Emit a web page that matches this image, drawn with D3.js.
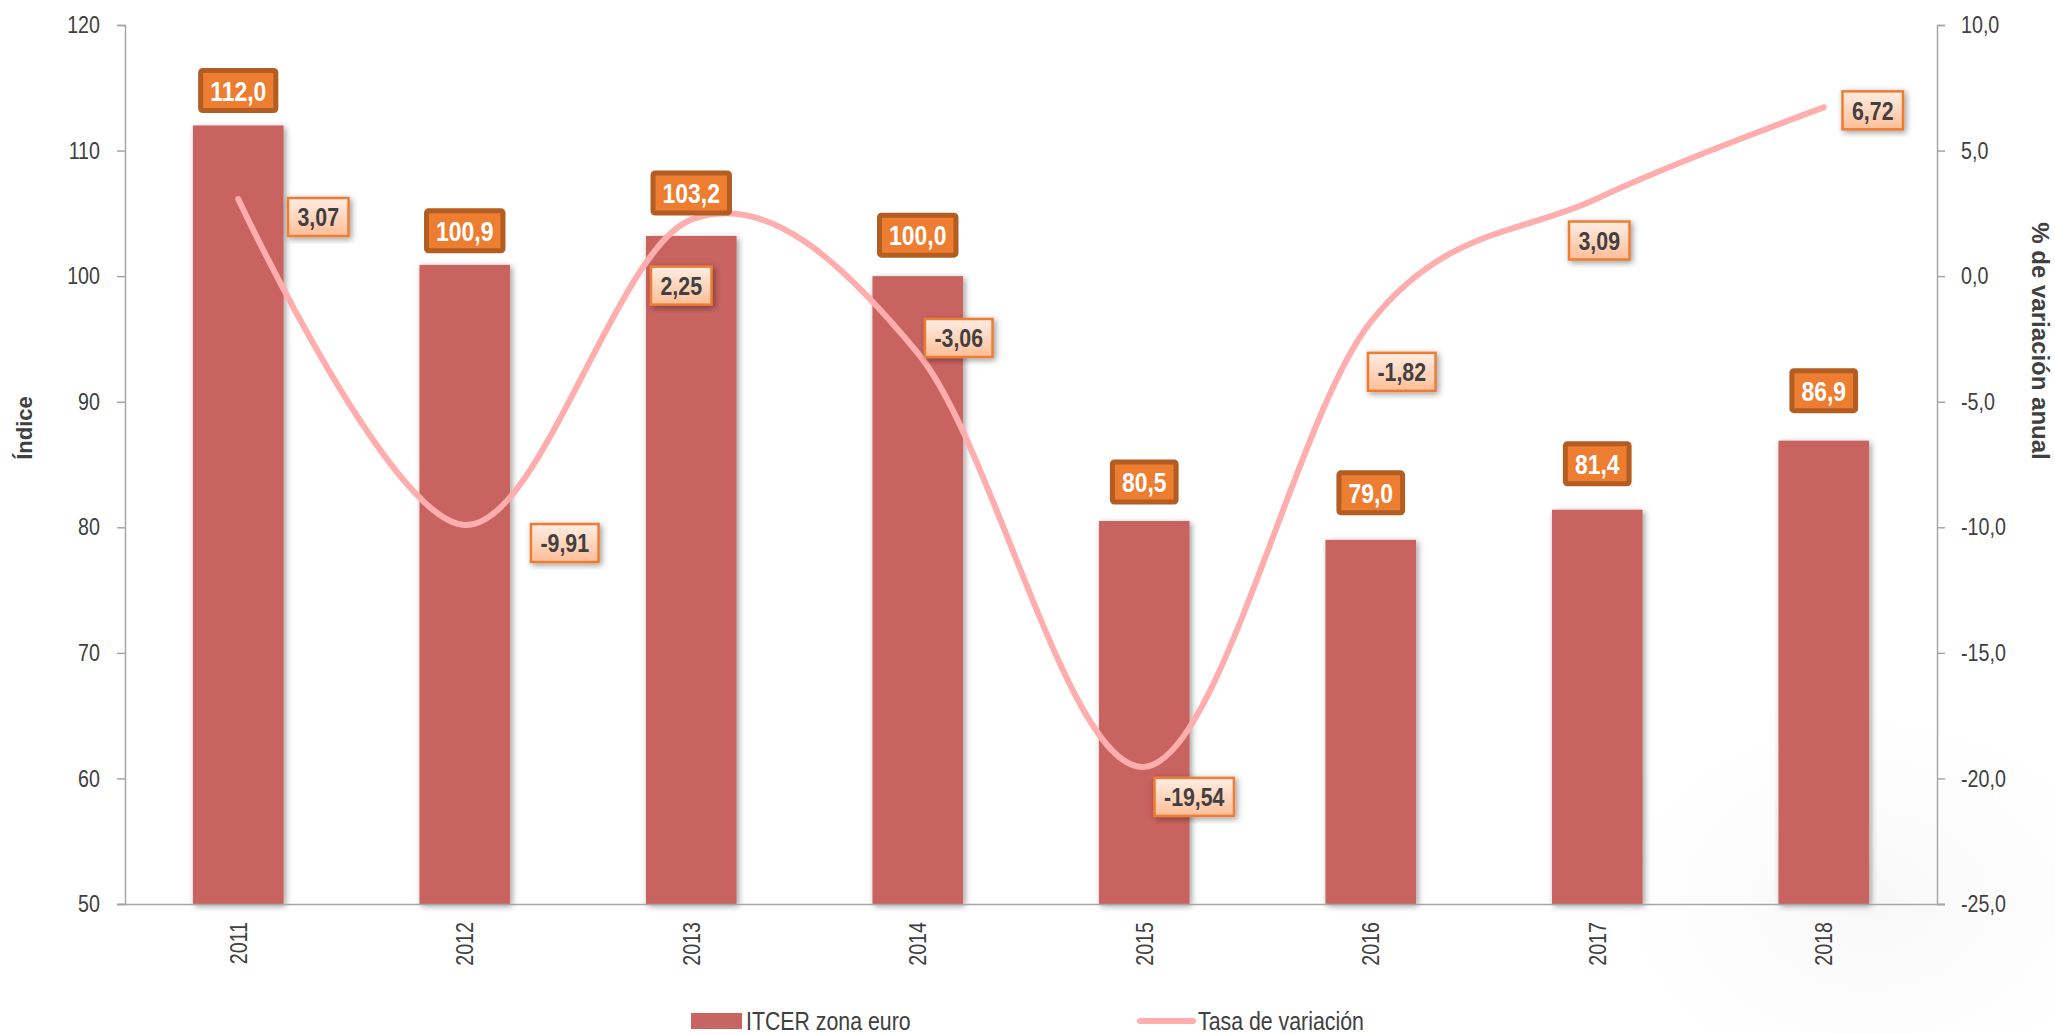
<!DOCTYPE html>
<html>
<head>
<meta charset="utf-8">
<script src="https://cdn.jsdelivr.net/npm/d3@7"></script>
<style>
  html, body { margin: 0; padding: 0; background: #fff; }
  svg { display: block; }
  text { font-family: "Liberation Sans", Arial, sans-serif; }
</style>
</head>
<body>
<svg id="svg" width="2055" height="1034"></svg>
<script>
const years = ['2011', '2012', '2013', '2014', '2015', '2016', '2017', '2018'];
const itcer = [112.0, 100.9, 103.2, 100.0, 80.5, 79.0, 81.4, 86.9];
const tasa = [3.07, -9.91, 2.25, -3.06, -19.54, -1.82, 3.09, 6.72];
const leftTicks = [50, 60, 70, 80, 90, 100, 110, 120];
const rightTicks = [-25, -20, -15, -10, -5, 0, 5, 10];
// label placement (px): bar labels above the bar top, rate labels relative to the point
const barLabelGap = [35, 34, 43, 41, 39, 47, 46, 50];
const tasaLabelOffset = [[80, 18], [100, 18], [-10, 66], [41, -15], [50, 30], [31, 50], [2, 42], [49, 3]];

const W = 2055, H = 1034;
const margin = {top: 25, right: 118, bottom: 130, left: 125};
const NARROW = 0.82; // fake Arial Narrow by squeezing Liberation Sans
const svg = d3.select('#svg');
const fmt1 = v => v.toFixed(1).replace('.', ',');
const fmt2 = v => v.toFixed(2).replace('.', ',');

function narrow(sel, pre) {
  sel.each(function () {
    const t = d3.select(this);
    const tx = +t.attr('x') || 0, ty = +t.attr('y') || 0;
    t.attr('x', 0).attr('y', 0)
      .attr('transform', `${pre || ''} translate(${tx},${ty}) scale(${NARROW},1)`);
  });
}

const defs = svg.append('defs');
const sh = defs.append('filter').attr('id', 'shadow').attr('x', '-20%').attr('y', '-20%').attr('width', '140%').attr('height', '140%');
sh.append('feDropShadow').attr('dx', 2).attr('dy', 2).attr('stdDeviation', 3).attr('flood-color', '#000').attr('flood-opacity', 0.4);
const grad = defs.append('linearGradient').attr('id', 'lblGrad').attr('x1', 0).attr('y1', 0).attr('x2', 0).attr('y2', 1);
grad.append('stop').attr('offset', '0%').attr('stop-color', '#FFEDE3');
grad.append('stop').attr('offset', '100%').attr('stop-color', '#FFBE98');
const wm = defs.append('radialGradient').attr('id', 'wm');
wm.append('stop').attr('offset', '0%').attr('stop-color', '#efefef').attr('stop-opacity', 0.5);
wm.append('stop').attr('offset', '100%').attr('stop-color', '#ffffff').attr('stop-opacity', 0);

// faint watermark in the lower right
svg.append('ellipse').attr('cx', 1870).attr('cy', 900).attr('rx', 320).attr('ry', 240).attr('fill', 'url(#wm)');

const x = d3.scaleBand().domain(years).range([margin.left, W - margin.right]).paddingInner(0.6).paddingOuter(0.3);
const yL = d3.scaleLinear().domain([50, 120]).range([H - margin.bottom, margin.top]);
const yR = d3.scaleLinear().domain([-25, 10]).range([H - margin.bottom, margin.top]);
const cx = d => x(d) + x.bandwidth() / 2;

// bars
svg.append('g').selectAll('rect').data(years).enter().append('rect')
  .attr('x', d => x(d)).attr('width', x.bandwidth())
  .attr('y', (d, i) => yL(itcer[i])).attr('height', (d, i) => yL(50) - yL(itcer[i]))
  .attr('fill', '#C86461').attr('filter', 'url(#shadow)');

// axes
const axisColor = '#A6A6A6';
const gL = svg.append('g').attr('transform', `translate(${margin.left},0)`)
  .call(d3.axisLeft(yL).tickValues(leftTicks).tickSize(8).tickPadding(17).tickFormat(d3.format('d')));
const gR = svg.append('g').attr('transform', `translate(${W - margin.right},0)`)
  .call(d3.axisRight(yR).tickValues(rightTicks).tickSize(8).tickPadding(16).tickFormat(fmt1));
const gB = svg.append('g').attr('transform', `translate(0,${H - margin.bottom})`)
  .call(d3.axisBottom(x).tickSize(0).tickPadding(0));
gB.select('.domain').attr('d', `M${margin.left - 8},0.5H${W - margin.right + 8}`);
[gL, gR, gB].forEach(g => {
  g.selectAll('.domain').attr('stroke', axisColor).attr('stroke-width', 1.5);
  g.selectAll('line').attr('stroke', axisColor).attr('stroke-width', 1.5);
  g.selectAll('text').attr('font-family', null).attr('font-size', 24).attr('fill', '#404040');
});
narrow(gL.selectAll('text'));
narrow(gR.selectAll('text'));
gB.selectAll('text').attr('text-anchor', 'end').attr('x', -18).attr('y', 0).attr('dy', '0.35em');
narrow(gB.selectAll('text'), 'rotate(-90)');

// line
const line = d3.line().x((d, i) => cx(years[i])).y(d => yR(d)).curve(d3.curveCatmullRom.alpha(0));
svg.append('path').datum(tasa).attr('d', line)
  .attr('fill', 'none').attr('stroke', '#FFADAD').attr('stroke-width', 6).attr('stroke-linecap', 'round');

// bar labels
const bl = svg.append('g').selectAll('g').data(years).enter().append('g')
  .attr('transform', (d, i) => `translate(${cx(d)},${yL(itcer[i]) - barLabelGap[i]})`);
bl.append('text').attr('text-anchor', 'middle').attr('dy', '0.36em')
  .attr('font-size', 28).attr('font-weight', 'bold').attr('fill', '#fff')
  .text((d, i) => fmt1(itcer[i]));
bl.each(function () {
  const g = d3.select(this);
  const w = g.select('text').node().getComputedTextLength() * NARROW + 19;
  g.insert('rect', 'text').attr('x', -w / 2).attr('y', -20).attr('width', w).attr('height', 40)
    .attr('rx', 2).attr('fill', '#ED7D31').attr('stroke', '#B35D22').attr('stroke-width', 5);
});
narrow(bl.selectAll('text'));

// rate labels
const tl = svg.append('g').selectAll('g').data(years).enter().append('g')
  .attr('transform', (d, i) => `translate(${cx(d) + tasaLabelOffset[i][0]},${yR(tasa[i]) + tasaLabelOffset[i][1]})`);
tl.append('text').attr('text-anchor', 'middle').attr('dy', '0.36em')
  .attr('font-size', 26).attr('font-weight', 'bold').attr('fill', '#404040')
  .text((d, i) => fmt2(tasa[i]));
tl.each(function () {
  const g = d3.select(this);
  const w = g.select('text').node().getComputedTextLength() * NARROW + 19;
  g.insert('rect', 'text').attr('x', -w / 2).attr('y', -19).attr('width', w).attr('height', 38)
    .attr('fill', 'url(#lblGrad)').attr('stroke', '#ED7D31').attr('stroke-width', 2.5)
    .attr('filter', 'url(#shadow)');
});
narrow(tl.selectAll('text'));

// axis titles
svg.append('text').attr('transform', 'translate(32,428) rotate(-90)')
  .attr('text-anchor', 'middle')
  .attr('font-size', 22).attr('font-weight', 'bold').attr('fill', '#404040').text('Índice');
svg.append('text').attr('transform', 'translate(2032,341) rotate(90)')
  .attr('text-anchor', 'middle')
  .attr('font-size', 24).attr('font-weight', 'bold').attr('fill', '#404040').text('% de variación anual');

// legend
const lg = svg.append('g');
lg.append('rect').attr('x', 691).attr('y', 1013).attr('width', 51).attr('height', 16).attr('fill', '#C86461');
lg.append('text').attr('x', 746).attr('y', 1030).attr('font-size', 26).attr('fill', '#404040').text('ITCER zona euro');
lg.append('line').attr('x1', 1140).attr('x2', 1193).attr('y1', 1021).attr('y2', 1021)
  .attr('stroke', '#FFADAD').attr('stroke-width', 6).attr('stroke-linecap', 'round');
lg.append('text').attr('x', 1198).attr('y', 1030).attr('font-size', 26).attr('fill', '#404040').text('Tasa de variación');
narrow(lg.selectAll('text'));
</script>
</body>
</html>
